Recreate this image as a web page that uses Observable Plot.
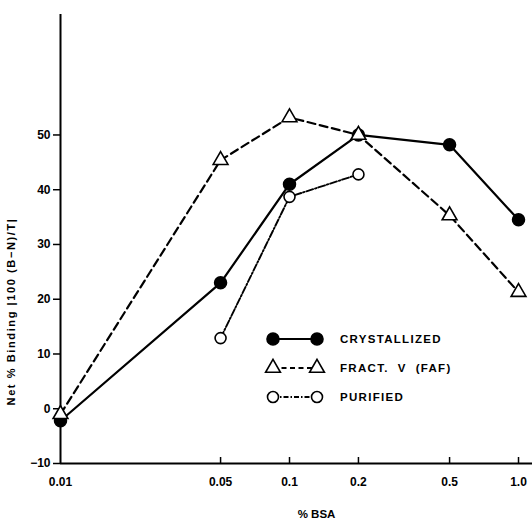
<!DOCTYPE html>
<html>
<head>
<meta charset="utf-8">
<script src="https://cdn.jsdelivr.net/npm/d3@7"></script>
<script src="https://cdn.jsdelivr.net/npm/@observablehq/plot@0.6"></script>
<style>
  body { margin: 0; background: #fff; }
  #wrap { position: relative; width: 532px; height: 522px; font-family: "Liberation Sans", Arial, sans-serif; }
  #legend { position: absolute; left: 262px; top: 325px; }
  #legend text { font-family: "Liberation Sans", Arial, sans-serif; }
</style>
</head>
<body>
<div id="wrap"></div>
<script>
// ---- data ----
const bsa = [0.01, 0.05, 0.1, 0.2, 0.5, 1.0];
const xTickLabels = ["0.01", "0.05", "0.1", "0.2", "0.5", "1.0"];
const yTicks = [-10, 0, 10, 20, 30, 40, 50];
const crystallized = [-2.2, 23, 41, 50, 48.2, 34.5];
const fractV = [-1, 45.4, 53.2, 50, 35.3, 21.3];
const purifiedX = [0.05, 0.1, 0.2];
const purified = [12.9, 38.7, 42.8];
const seriesNames = ["CRYSTALLIZED", "FRACT.  V  (FAF)", "PURIFIED"];
const xLabel = "% BSA";
const yLabel = "Net % Binding |100 (B\u2212N)/T|";

const cryData = bsa.map((x, i) => ({x, y: crystallized[i]}));
const fafData = bsa.map((x, i) => ({x, y: fractV[i]}));
const purData = purifiedX.map((x, i) => ({x, y: purified[i]}));

const W = 532, H = 522, mT = 14, mB = 59, mL = 60, mR = 0;
const frameH = H - mT - mB;

const chart = Plot.plot({
  width: W, height: H,
  marginTop: mT, marginBottom: mB, marginLeft: mL, marginRight: mR,
  style: {fontFamily: "Liberation Sans, Arial, sans-serif", background: "#fff", color: "#000"},
  x: {type: "log", domain: [0.01, 1.151], label: null},
  y: {domain: [-10, 72], label: null},
  marks: [
    // axis lines
    Plot.ruleX([0.01], {stroke: "#000", strokeWidth: 2}),
    Plot.ruleY([-10], {stroke: "#000", strokeWidth: 2}),
    // inward x ticks
    Plot.ruleX(bsa.slice(1), {insetTop: frameH - 6, stroke: "#000", strokeWidth: 1.5}),
    Plot.axisX({ticks: bsa, tickFormat: (d) => xTickLabels[bsa.indexOf(d)], tickSize: 0, tickPadding: 14,
      fontSize: 12, fontWeight: "bold", label: null}),
    Plot.axisY({ticks: yTicks, tickSize: 7, tickPadding: 3, fontSize: 12, fontWeight: "bold",
      strokeWidth: 1.5, label: null}),
    // series lines
    Plot.line(cryData, {x: "x", y: "y", stroke: "#000", strokeWidth: 2.2}),
    Plot.line(fafData, {x: "x", y: "y", stroke: "#000", strokeWidth: 2.2, strokeDasharray: "8,4.5"}),
    Plot.line(purData, {x: "x", y: "y", stroke: "#000", strokeWidth: 1.9, strokeDasharray: "7,2,1.5,2"}),
    // markers
    Plot.dot(cryData, {x: "x", y: "y", r: 6, fill: "#000", stroke: "#000"}),
    Plot.dot(purData, {x: "x", y: "y", r: 5.5, fill: "#fff", stroke: "#000", strokeWidth: 1.6}),
    Plot.dot(fafData, {x: "x", y: "y", r: 5.5, symbol: "triangle", fill: "#fff", stroke: "#000", strokeWidth: 1.6}),
    // axis titles
    Plot.text([xLabel], {frameAnchor: "bottom", dx: 20, dy: 54, text: (d) => d, fontSize: 11.5, fontWeight: "bold"}),
    Plot.text([yLabel], {frameAnchor: "left", rotate: -90, textAnchor: "middle", text: (d) => d, fontSize: 11,
      fontWeight: "bold", fill: "#000"})
  ]
});
// place the rotated y title like the original (centred at x=14, y=311)
d3.select(chart).selectAll("text").filter(function() { return this.textContent.includes("Binding"); })
  .attr("transform", "translate(14,311) rotate(-90)")
  .attr("x", null).attr("y", null)
  .attr("text-anchor", "middle")
  .style("letter-spacing", "1.6px");

const wrap = document.getElementById("wrap");
wrap.appendChild(chart);

// ---- legend (overlay) ----
const leg = d3.select(wrap).append("div").attr("id", "legend")
  .append("svg").attr("width", 270).attr("height", 90);
const rows = [
  {dash: null, sw: 2.2, sym: "circle", fill: "#000"},
  {dash: "5,3.5", sw: 2.2, sym: "triangle", fill: "#fff"},
  {dash: "5,2,1.5,2", sw: 1.8, sym: "ocircle", fill: "#fff"}
];
rows.forEach((r, i) => {
  const cy = 14 + i * 29;
  const x1 = 11, x2 = 55;
  leg.append("line").attr("x1", x1).attr("x2", x2).attr("y1", cy).attr("y2", cy)
    .attr("stroke", "#000").attr("stroke-width", r.sw).attr("stroke-dasharray", r.dash);
  [x1, x2].forEach(cx => {
    if (r.sym === "triangle") {
      leg.append("path").attr("transform", `translate(${cx},${cy})`)
        .attr("d", d3.symbol(d3.symbolTriangle, 95)()).attr("fill", "#fff").attr("stroke", "#000").attr("stroke-width", 1.6);
    } else {
      leg.append("circle").attr("cx", cx).attr("cy", cy).attr("r", r.sym === "circle" ? 6 : 5.5)
        .attr("fill", r.fill).attr("stroke", "#000").attr("stroke-width", 1.6);
    }
  });
  leg.append("text").attr("x", 78).attr("y", cy).attr("dy", "0.35em")
    .attr("font-size", 11.5).attr("font-weight", "bold").attr("letter-spacing", "1.3px")
    .attr("xml:space", "preserve").style("white-space", "pre")
    .text(seriesNames[i]);
});
</script>
</body>
</html>
